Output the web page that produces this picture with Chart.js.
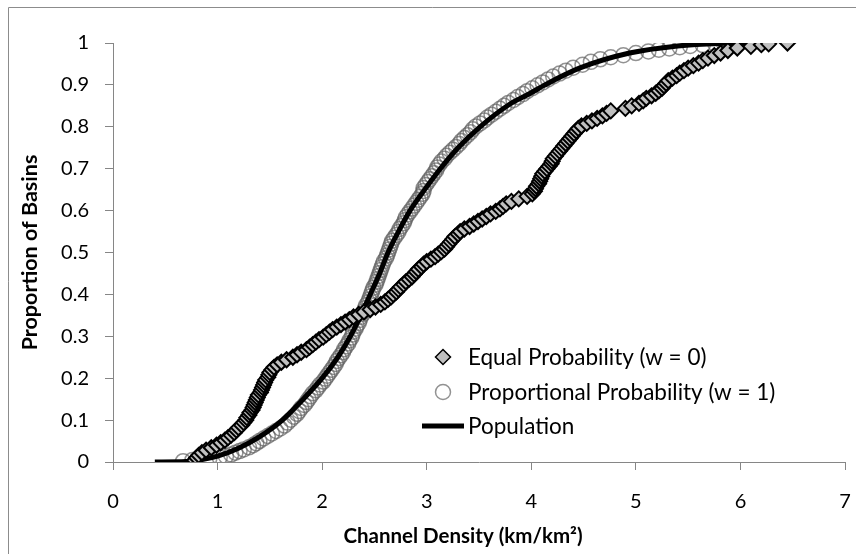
<!DOCTYPE html>
<html>
<head>
<meta charset="utf-8">
<script src="https://cdn.jsdelivr.net/npm/chart.js@4.4.1/dist/chart.umd.min.js"></script>
<style>
  html, body { margin: 0; padding: 0; background: #fff; }
  #wrap { position: relative; width: 856px; height: 554px; overflow: hidden; }
  canvas { display: block; }
</style>
</head>
<body>
<div id="wrap"><canvas id="c" width="856" height="554"></canvas></div>
<script>
// ---- Data ----
const xTickValues = [0, 1, 2, 3, 4, 5, 6, 7];
const yTickValues = [0, 0.1, 0.2, 0.3, 0.4, 0.5, 0.6, 0.7, 0.8, 0.9, 1];

const seriesNames = ["Equal Probability (w = 0)", "Proportional Probability (w = 1)", "Population"];

// Population curve
const popX = [0.4, 0.7, 0.9, 1.0, 1.2, 1.4, 1.62, 1.8, 2.0, 2.15, 2.27, 2.37, 2.46, 2.55, 2.63, 2.73, 2.84, 2.98, 3.13, 3.3, 3.51, 3.8, 3.99, 4.13, 4.46, 4.94, 5.4, 5.8, 6.15];
const popY = [0, 0.001, 0.008, 0.014, 0.033, 0.06, 0.1, 0.145, 0.2, 0.25, 0.3, 0.35, 0.4, 0.45, 0.5, 0.55, 0.6, 0.65, 0.7, 0.75, 0.8, 0.855, 0.88, 0.9, 0.94, 0.976, 0.993, 0.999, 1.0];

// Equal probability sample (w = 0)
const equalX = [0.78, 0.80, 0.82, 0.85, 0.89, 0.94, 0.99, 1.03, 1.07, 1.10, 1.13, 1.16, 1.18, 1.20, 1.23, 1.25, 1.27, 1.28, 1.30, 1.31,
  1.33, 1.34, 1.35, 1.36, 1.37, 1.38, 1.39, 1.41, 1.42, 1.43, 1.44, 1.45, 1.46, 1.48, 1.49, 1.50, 1.52, 1.54, 1.57, 1.61,
  1.66, 1.72, 1.76, 1.80, 1.85, 1.88, 1.91, 1.94, 1.97, 2.01, 2.04, 2.07, 2.10, 2.14, 2.18, 2.22, 2.26, 2.30, 2.35, 2.40,
  2.46, 2.51, 2.56, 2.60, 2.63, 2.66, 2.68, 2.71, 2.73, 2.75, 2.78, 2.80, 2.83, 2.86, 2.88, 2.90, 2.92, 2.95, 2.97, 3.00,
  3.04, 3.08, 3.11, 3.14, 3.17, 3.19, 3.21, 3.23, 3.25, 3.27, 3.30, 3.32, 3.36, 3.41, 3.45, 3.49, 3.53, 3.57, 3.61, 3.66,
  3.70, 3.73, 3.76, 3.81, 3.88, 3.96, 4.01, 4.03, 4.04, 4.05, 4.07, 4.08, 4.09, 4.10, 4.11, 4.13, 4.15, 4.17, 4.19, 4.20,
  4.21, 4.23, 4.25, 4.27, 4.29, 4.31, 4.33, 4.35, 4.37, 4.39, 4.41, 4.43, 4.45, 4.48, 4.53, 4.58, 4.63, 4.68, 4.72, 4.76,
  4.90, 4.96, 5.03, 5.07, 5.10, 5.15, 5.19, 5.22, 5.25, 5.27, 5.29, 5.31, 5.35, 5.39, 5.42, 5.46, 5.50, 5.55, 5.60, 5.64,
  5.69, 5.75, 5.81, 5.88, 5.97, 6.10, 6.20, 6.27, 6.45];
const equalY = [0.004, 0.010, 0.016, 0.022, 0.028, 0.034, 0.040, 0.046, 0.052, 0.058, 0.064, 0.070, 0.076, 0.082, 0.088, 0.094, 0.100, 0.106, 0.112, 0.118,
  0.124, 0.130, 0.136, 0.142, 0.148, 0.154, 0.160, 0.166, 0.172, 0.178, 0.184, 0.190, 0.196, 0.202, 0.208, 0.214, 0.220, 0.226, 0.232, 0.238,
  0.244, 0.250, 0.256, 0.262, 0.268, 0.274, 0.280, 0.286, 0.292, 0.298, 0.304, 0.310, 0.316, 0.322, 0.328, 0.334, 0.340, 0.346, 0.352, 0.358,
  0.364, 0.370, 0.376, 0.382, 0.388, 0.394, 0.400, 0.406, 0.412, 0.418, 0.424, 0.430, 0.436, 0.442, 0.448, 0.454, 0.460, 0.466, 0.472, 0.478,
  0.484, 0.490, 0.496, 0.502, 0.508, 0.514, 0.520, 0.526, 0.532, 0.538, 0.544, 0.550, 0.556, 0.562, 0.568, 0.574, 0.580, 0.586, 0.592, 0.598,
  0.604, 0.610, 0.616, 0.622, 0.628, 0.634, 0.640, 0.646, 0.652, 0.658, 0.664, 0.670, 0.676, 0.682, 0.688, 0.694, 0.700, 0.706, 0.712, 0.718,
  0.724, 0.730, 0.736, 0.742, 0.748, 0.754, 0.760, 0.766, 0.772, 0.778, 0.784, 0.790, 0.796, 0.802, 0.808, 0.814, 0.820, 0.826, 0.832, 0.838,
  0.844, 0.850, 0.856, 0.862, 0.868, 0.874, 0.880, 0.886, 0.892, 0.898, 0.904, 0.910, 0.916, 0.922, 0.928, 0.934, 0.940, 0.946, 0.952, 0.958,
  0.964, 0.970, 0.976, 0.982, 0.988, 0.992, 0.996, 0.998, 1.000];

// Proportional probability sample (w = 1)
const propX = [0.67, 0.76, 0.92, 1.02, 1.08, 1.13, 1.17, 1.21, 1.25, 1.30, 1.34, 1.37, 1.40, 1.44, 1.48, 1.52, 1.56, 1.60, 1.64, 1.67,
  1.70, 1.73, 1.76, 1.78, 1.80, 1.83, 1.85, 1.87, 1.89, 1.91, 1.94, 1.96, 1.98, 2.01, 2.03, 2.05, 2.07, 2.09, 2.11, 2.13,
  2.14, 2.16, 2.18, 2.20, 2.21, 2.23, 2.25, 2.26, 2.28, 2.29, 2.30, 2.32, 2.33, 2.35, 2.36, 2.37, 2.39, 2.40, 2.41, 2.42,
  2.44, 2.45, 2.46, 2.47, 2.48, 2.49, 2.51, 2.52, 2.53, 2.54, 2.55, 2.56, 2.57, 2.58, 2.59, 2.61, 2.62, 2.63, 2.64, 2.65,
  2.66, 2.67, 2.69, 2.71, 2.73, 2.74, 2.76, 2.78, 2.79, 2.80, 2.82, 2.84, 2.86, 2.88, 2.90, 2.92, 2.94, 2.96, 2.97, 2.97,
  2.99, 3.01, 3.03, 3.05, 3.07, 3.09, 3.10, 3.12, 3.14, 3.17, 3.19, 3.22, 3.25, 3.28, 3.31, 3.33, 3.36, 3.39, 3.42, 3.44,
  3.47, 3.51, 3.55, 3.58, 3.62, 3.66, 3.70, 3.74, 3.78, 3.83, 3.87, 3.92, 3.96, 4.01, 4.06, 4.11, 4.16, 4.21, 4.27, 4.33,
  4.40, 4.49, 4.57, 4.66, 4.76, 4.88, 5.00, 5.12, 5.22, 5.32, 5.42, 5.52, 5.64, 5.76, 5.84];
const propY = [0.002, 0.005, 0.008, 0.011, 0.014, 0.018, 0.022, 0.026, 0.030, 0.035, 0.040, 0.045, 0.050, 0.056, 0.062, 0.068, 0.074, 0.080, 0.087, 0.094,
  0.101, 0.108, 0.115, 0.122, 0.129, 0.136, 0.143, 0.150, 0.157, 0.164, 0.171, 0.178, 0.185, 0.192, 0.199, 0.206, 0.213, 0.220, 0.227, 0.234,
  0.241, 0.248, 0.255, 0.262, 0.269, 0.276, 0.283, 0.290, 0.297, 0.304, 0.311, 0.318, 0.325, 0.332, 0.339, 0.346, 0.353, 0.360, 0.367, 0.374,
  0.381, 0.388, 0.395, 0.402, 0.409, 0.416, 0.423, 0.430, 0.437, 0.444, 0.451, 0.458, 0.465, 0.472, 0.479, 0.486, 0.493, 0.500, 0.507, 0.514,
  0.521, 0.528, 0.535, 0.542, 0.549, 0.556, 0.563, 0.570, 0.577, 0.584, 0.591, 0.598, 0.605, 0.612, 0.619, 0.626, 0.633, 0.640, 0.647, 0.654,
  0.661, 0.668, 0.675, 0.682, 0.689, 0.696, 0.703, 0.710, 0.717, 0.724, 0.731, 0.738, 0.745, 0.752, 0.759, 0.766, 0.773, 0.780, 0.787, 0.794,
  0.801, 0.808, 0.815, 0.822, 0.829, 0.836, 0.843, 0.850, 0.857, 0.864, 0.871, 0.878, 0.885, 0.892, 0.899, 0.906, 0.913, 0.920, 0.927, 0.934,
  0.941, 0.948, 0.955, 0.961, 0.966, 0.971, 0.976, 0.980, 0.984, 0.987, 0.990, 0.993, 0.995, 0.997, 1.000];

const xTitle = "Channel Density (km/km\u00B2)";
const yTitle = "Proportion of Basins";

// ---- Build chart ----
const toPts = (xs, ys) => xs.map((x, i) => ({ x: x, y: ys[i] }));
const FONT = "Lato, 'Open Sans', sans-serif";
const AXIS_COLOR = "#868686";
const DIAMOND_FILL = "#c0c0c0";
const CIRCLE_STROKE = "rgba(100,100,100,0.7)";

const framePlugin = {
  id: "frame",
  beforeDraw(chart) {
    const ctx = chart.ctx;
    ctx.save();
    ctx.strokeStyle = "#8c8c8c";
    ctx.lineWidth = 1;
    ctx.beginPath();
    ctx.moveTo(8.5, 600);
    ctx.lineTo(8.5, 7.5);
    ctx.lineTo(900, 7.5);
    ctx.stroke();
    ctx.restore();
  }
};

const overlayPlugin = {
  id: "overlay",
  afterDraw(chart) {
    const ctx = chart.ctx;
    ctx.save();
    // x-axis title
    ctx.font = "bold 20.5px " + FONT;
    ctx.fillStyle = "#000";
    ctx.textAlign = "center";
    ctx.textBaseline = "middle";
    ctx.fillText(xTitle, 463, 536);
    // legend
    ctx.font = "22.5px " + FONT;
    ctx.textBaseline = "middle";
    ctx.textAlign = "left";
    const mx = 443, tx = 468;
    const rows = [357, 392, 426];
    ctx.beginPath();
    ctx.moveTo(mx - 7.5, rows[0]);
    ctx.lineTo(mx, rows[0] - 7.5);
    ctx.lineTo(mx + 7.5, rows[0]);
    ctx.lineTo(mx, rows[0] + 7.5);
    ctx.closePath();
    ctx.fillStyle = DIAMOND_FILL;
    ctx.fill();
    ctx.strokeStyle = "#000";
    ctx.lineWidth = 1.5;
    ctx.stroke();
    ctx.beginPath();
    ctx.arc(mx, rows[1], 7.5, 0, Math.PI * 2);
    ctx.strokeStyle = "rgba(110,110,110,0.75)";
    ctx.lineWidth = 1.5;
    ctx.stroke();
    ctx.beginPath();
    ctx.moveTo(422, rows[2]);
    ctx.lineTo(464, rows[2]);
    ctx.strokeStyle = "#000";
    ctx.lineWidth = 5;
    ctx.stroke();
    ctx.fillStyle = "#000";
    seriesNames.forEach((n, i) => ctx.fillText(n, tx, rows[i] + 1));
    ctx.restore();
  }
};

new Chart(document.getElementById("c"), {
  type: "scatter",
  data: {
    datasets: [
      {
        label: seriesNames[0],
        data: toPts(equalX, equalY),
        pointStyle: "rectRot",
        pointRadius: 7.5,
        backgroundColor: DIAMOND_FILL,
        borderColor: "#000",
        borderWidth: 2,
        order: 0
      },
      {
        label: seriesNames[1],
        data: toPts(propX, propY),
        pointStyle: "circle",
        pointRadius: 7.5,
        backgroundColor: "rgba(0,0,0,0)",
        borderColor: CIRCLE_STROKE,
        borderWidth: 1.5,
        order: 2
      },
      {
        type: "line",
        label: seriesNames[2],
        data: toPts(popX, popY),
        showLine: true,
        borderColor: "#000",
        borderWidth: 5,
        pointRadius: 0,
        fill: false,
        cubicInterpolationMode: "monotone",
        order: 1
      }
    ]
  },
  options: {
    responsive: false,
    animation: false,
    devicePixelRatio: 1,
    layout: { padding: { top: 43, right: 11, left: 0, bottom: 0 } },
    plugins: { legend: { display: false }, tooltip: { enabled: false }, title: { display: false } },
    scales: {
      x: {
        type: "linear",
        min: 0, max: 7,
        afterFit(s) { s.height = 92; },
        afterBuildTicks(s) { s.ticks = xTickValues.map(v => ({ value: v })); },
        ticks: { color: "#000", font: { family: FONT, size: 20, lineHeight: 2.85 }, padding: 3, maxRotation: 0 },
        grid: { display: true, drawOnChartArea: false, drawTicks: true, tickLength: 8, color: AXIS_COLOR },
        border: { display: true, color: AXIS_COLOR, width: 1 },
        title: { display: false }
      },
      y: {
        type: "linear",
        min: 0, max: 1,
        afterFit(s) { s.width = 113; },
        afterBuildTicks(s) { s.ticks = yTickValues.map(v => ({ value: v })); },
        ticks: { color: "#000", font: { family: FONT, size: 20 }, padding: 16, callback: v => String(Math.round(v * 10) / 10) },
        grid: { display: true, drawOnChartArea: false, drawTicks: true, tickLength: 8, color: AXIS_COLOR },
        border: { display: true, color: AXIS_COLOR, width: 1 },
        title: { display: true, text: yTitle, color: "#000", font: { family: FONT, size: 21.5, weight: "bold" }, padding: { top: 17, bottom: 0 } }
      }
    }
  },
  plugins: [framePlugin, overlayPlugin]
});
</script>
</body>
</html>
